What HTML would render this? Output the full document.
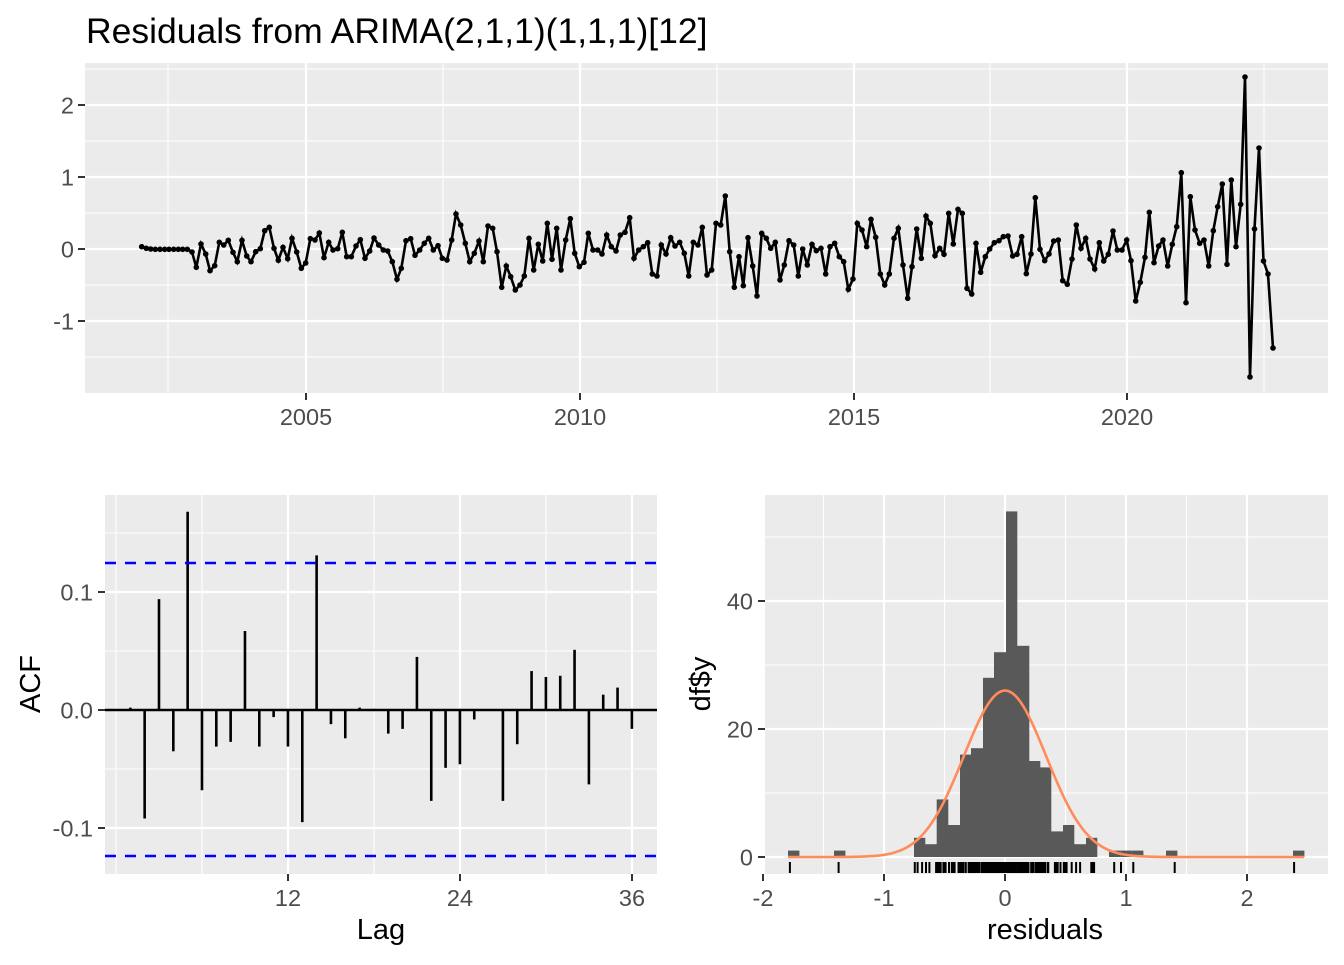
<!DOCTYPE html>
<html><head><meta charset="utf-8">
<style>
html,body{margin:0;padding:0;background:#fff;}
svg text{font-family:"Liberation Sans",sans-serif;}
</style></head><body>
<svg id="s" width="1344" height="960" xmlns="http://www.w3.org/2000/svg"></svg>
<script>
const S=document.getElementById('s');let h='';
function L(x1,y1,x2,y2,c,w,extra){h+=`<line x1="${x1}" y1="${y1}" x2="${x2}" y2="${y2}" stroke="${c}" stroke-width="${w}" ${extra||''}/>`;}
function T(x,y,t,sz,anc,col,extra){h+=`<text x="${x}" y="${y}" font-size="${sz}" text-anchor="${anc}" fill="${col}" ${extra||''}>${t}</text>`;}
function R(x,y,w,hh,c){h+=`<rect x="${x}" y="${y}" width="${w}" height="${hh}" fill="${c}"/>`;}
const TS=23.5, AT=29;
T(86,43,'Residuals from ARIMA(2,1,1)(1,1,1)[12]',35.5,'start','#000');
const P1={l:85,r:1328,t:63,b:393};
R(P1.l,P1.t,P1.r-P1.l,P1.b-P1.t,'#ebebeb');
[69,141,213,285,357].forEach(y=>L(P1.l,y,P1.r,y,'#fff',1.1));
[168,443,717,990,1264].forEach(x=>L(x,P1.t,x,P1.b,'#fff',1.1));
[105,177,249,321].forEach(y=>L(P1.l,y,P1.r,y,'#fff',2.2));
[306,580,854,1127].forEach(x=>L(x,P1.t,x,P1.b,'#fff',2.2));
[[105,'2'],[177,'1'],[249,'0'],[321,'-1']].forEach(([y,t])=>{L(P1.l-7,y,P1.l,y,'#333',2);T(P1.l-11,y+8.5,t,TS,'end','#4d4d4d');});
[[306,'2005'],[580,'2010'],[854,'2015'],[1127,'2020']].forEach(([x,t])=>{L(x,P1.b,x,P1.b+7,'#333',2);T(x,P1.b+32,t,TS,'middle','#4d4d4d');});
const z2=[[35,170],[49,175],[62,177],[76,178],[90,178],[104,178],[117,178],[131,178],[145,178],[158,178],[172,178],[186,186],[199,232],[213,162],[227,192],[240,242],[254,227],[268,157],[281,165],[295,151],[309,187],[322,215],[336,151],[350,198],[363,215],[377,185],[391,176],[404,122],[418,112],[432,175],[445,211],[459,172],[473,206],[486,145],[500,186],[514,235],[527,219],[541,146],[555,150],[568,129],[582,203],[596,157],[609,180],[623,176],[637,127],[650,200],[664,200],[678,168],[691,149],[705,205],[719,183],[732,144],[746,165],[760,180],[773,183],[787,215],[801,268],[814,235],[828,152],[842,146],[855,196],[869,180],[883,160],[896,145],[910,180],[924,167],[937,205],[951,210],[965,150],[978,72],[992,105],[1006,160],[1019,215],[1033,190],[1047,153],[1060,215],[1074,108],[1088,115],[1101,185],[1115,292],[1129,228],[1142,260],[1156,300],[1170,285],[1183,258],[1197,145]];
const z3=[[41,270],[55,193],[68,243],[82,130],[96,238],[110,145],[123,270],[137,180],[151,116],[164,220],[178,260],[192,247],[205,160],[219,210],[233,210],[246,222],[260,165],[274,200],[288,213],[301,165],[315,157],[329,113],[342,235],[356,210],[370,200],[383,188],[397,282],[411,288],[424,195],[438,222],[452,173],[465,198],[479,187],[493,220],[506,288],[520,187],[534,195],[547,142],[561,285],[575,270],[588,130],[602,135],[616,48],[629,215],[643,322],[657,230],[670,317],[684,173],[698,258],[711,348],[725,160],[739,175],[752,205],[766,187],[780,300],[793,255],[807,182],[821,195],[835,288],[848,207],[862,255],[876,193],[889,212],[903,205],[917,282],[930,200],[944,190],[958,230],[971,245],[985,328],[999,297],[1012,130],[1026,150],[1040,200],[1053,118],[1067,172],[1081,282],[1094,315],[1108,282],[1122,175],[1135,145],[1149,255],[1163,355],[1176,260],[1190,147]];
const z4=[[34,295],[48,168],[61,190],[75,287],[89,265],[102,283],[116,160],[130,252],[144,148],[157,160],[171,385],[185,402],[198,250],[212,337],[226,290],[239,267],[253,248],[267,242],[280,230],[294,228],[308,288],[321,283],[335,230],[349,341],[363,282],[376,113],[390,268],[404,302],[417,282],[431,243],[445,240],[458,362],[472,373],[486,297],[499,195],[513,265],[527,235],[540,297],[554,327],[568,248],[581,303],[595,283],[609,213],[622,270],[636,270],[650,240],[663,302],[677,423],[691,367],[705,292],[718,157],[732,308],[746,258],[759,240],[773,318],[787,253],[800,200],[814,38],[828,428],[841,110],[855,210],[869,250],[882,240],[896,318],[910,212],[923,140],[937,72],[951,313],[964,60],[978,260],[992,133]];
let pts=[];
z2.forEach(([x,y])=>pts.push([130+x/3,190+y/3]));
z3.forEach(([x,y])=>pts.push([520+x/3,180+y/3]));
z4.forEach(([x,y])=>pts.push([910+x/3,160+y/3]));
[[1245,77],[1250,377],[1254.5,229],[1259,148],[1263.5,261],[1268,274],[1273,348]].forEach(p=>pts.push(p));
h+=`<polyline points="${pts.map(p=>p[0].toFixed(1)+','+p[1].toFixed(1)).join(' ')}" fill="none" stroke="#000" stroke-width="2.6"/>`;
pts.forEach(p=>h+=`<circle cx="${p[0].toFixed(1)}" cy="${p[1].toFixed(1)}" r="2.8" fill="#000"/>`);
const P2={l:105,r:657,t:495,b:874};
R(P2.l,P2.t,P2.r-P2.l,P2.b-P2.t,'#ebebeb');
const ay=v=>710-v*1180;
[0.15,0.05,-0.05].forEach(v=>L(P2.l,ay(v),P2.r,ay(v),'#fff',1.1));
[116,202,374,546].forEach(x=>L(x,P2.t,x,P2.b,'#fff',1.1));
[0.1,0,-0.1].forEach(v=>L(P2.l,ay(v),P2.r,ay(v),'#fff',2.2));
[288,460,632].forEach(x=>L(x,P2.t,x,P2.b,'#fff',2.2));
[[0.1,'0.1'],[0,'0.0'],[-0.1,'-0.1']].forEach(([v,t])=>{L(P2.l-7,ay(v),P2.l,ay(v),'#333',2);T(P2.l-12,ay(v)+8.5,t,TS,'end','#4d4d4d');});
[[288,'12'],[460,'24'],[632,'36']].forEach(([x,t])=>{L(x,P2.b,x,P2.b+7,'#333',2);T(x,P2.b+32,t,TS,'middle','#4d4d4d');});
L(P2.l,710,P2.r,710,'#000',2.6);
const acf=[0.002,-0.092,0.094,-0.035,0.168,-0.068,-0.031,-0.027,0.067,-0.031,-0.006,-0.031,-0.095,0.131,-0.012,-0.024,0.002,0.001,-0.020,-0.016,0.045,-0.077,-0.049,-0.046,-0.008,0.0,-0.077,-0.029,0.033,0.028,0.029,0.051,-0.063,0.013,0.019,-0.016];
acf.forEach((v,i)=>{const x=116+(i+1)*14.33;L(x,710,x,ay(v),'#000',2.6);});
L(P2.l,563,P2.r,563,'#0000ff',2.6,'stroke-dasharray="11,9"');
L(P2.l,856,P2.r,856,'#0000ff',2.6,'stroke-dasharray="11,9"');
T(381,939,'Lag',AT,'middle','#000');
T(0,0,'ACF',AT,'middle','#000','transform="translate(40,684) rotate(-90)"');
const P3={l:765,r:1328,t:495,b:874};
R(P3.l,P3.t,P3.r-P3.l,P3.b-P3.t,'#ebebeb');
const hy=c=>857-c*6.4, hx=v=>1005+v*121;
[10,30,50].forEach(c=>L(P3.l,hy(c),P3.r,hy(c),'#fff',1.1));
[-1.5,-0.5,0.5,1.5].forEach(v=>L(hx(v),P3.t,hx(v),P3.b,'#fff',1.1));
[0,20,40].forEach(c=>L(P3.l,hy(c),P3.r,hy(c),'#fff',2.2));
[-1,0,1,2].forEach(v=>L(hx(v),P3.t,hx(v),P3.b,'#fff',2.2));
[[0,'0'],[20,'20'],[40,'40']].forEach(([c,t])=>{L(P3.l-7,hy(c),P3.l,hy(c),'#333',2);T(P3.l-12,hy(c)+8.5,t,TS,'end','#4d4d4d');});
[[-2,'-2'],[-1,'-1'],[0,'0'],[1,'1'],[2,'2']].forEach(([v,t])=>{L(hx(v),P3.b,hx(v),P3.b+7,'#333',2);T(hx(v),P3.b+32,t,TS,'middle','#4d4d4d');});
const edges=[914,925,936.7,948,960,971,983,994,1006,1017,1029,1040,1051,1063,1074,1086,1097];
const cnt=[3,2,9,5,16,17,28,32,54,33,15,14,4,5,2,3];
cnt.forEach((c,i)=>R(edges[i],hy(c),edges[i+1]-edges[i]+0.3,c*6.4,'#595959'));
[[788,1],[834,1],[1109,1],[1120.5,1],[1132,1],[1166,1],[1293,1]].forEach(([x,c])=>R(x,hy(c),11.4,c*6.4,'#595959'));
let cp=[];for(let x=788;x<=1305;x+=2){const v=(x-1005)/121;cp.push(x+','+(857-26*Math.exp(-v*v/(2*0.34*0.34))*6.4).toFixed(1));}
h+=`<polyline points="${cp.join(' ')}" fill="none" stroke="#ff8c5a" stroke-width="2.6"/>`;
pts.forEach(p=>{const v=(249-p[1])/72;const x=hx(v);h+=`<line x1="${x.toFixed(1)}" y1="862" x2="${x.toFixed(1)}" y2="873" stroke="#000" stroke-width="2"/>`;});
T(1045,939,'residuals',AT,'middle','#000');
T(0,0,'df$y',AT,'middle','#000','transform="translate(710,684) rotate(-90)"');
S.innerHTML=h;
</script>
</body></html>
